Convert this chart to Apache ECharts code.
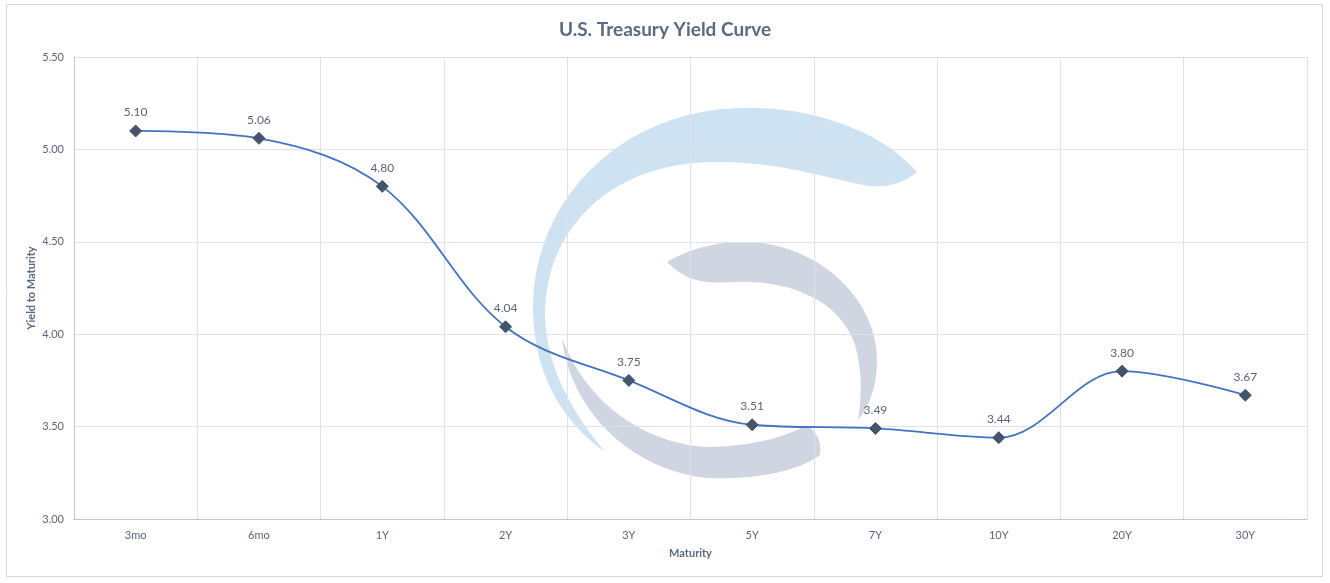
<!DOCTYPE html>
<html>
<head>
<meta charset="utf-8">
<script src="https://cdn.jsdelivr.net/npm/echarts@6/dist/echarts.min.js"></script>
<style>html,body{margin:0;padding:0;background:#fff}#c{width:1330px;height:583px}</style>
</head>
<body>
<div id="c"></div>
<script>
const categories = ['3mo','6mo','1Y','2Y','3Y','5Y','7Y','10Y','20Y','30Y'];
const yields = [5.10, 5.06, 4.80, 4.04, 3.75, 3.51, 3.49, 3.44, 3.80, 3.67];
const yTicks = { min: 3.0, max: 5.5, interval: 0.5 };

// watermark outline helper (decorative logo, not data)
function bez(d) {
  const t = d.replace(/[MCZ]/g, ' ').trim().split(/\s+/).map(Number);
  const pts = [[t[0], t[1]]];
  let x0 = t[0], y0 = t[1];
  for (let i = 2; i + 5 < t.length; i += 6) {
    const [x1, y1, x2, y2, x3, y3] = t.slice(i, i + 6);
    for (let k = 1; k <= 20; k++) {
      const s = k / 20, u = 1 - s;
      pts.push([u*u*u*x0 + 3*u*u*s*x1 + 3*u*s*s*x2 + s*s*s*x3,
                u*u*u*y0 + 3*u*u*s*y1 + 3*u*s*s*y2 + s*s*s*y3]);
    }
    x0 = x3; y0 = y3;
  }
  return pts;
}

const chart = echarts.init(document.getElementById('c'), null, { renderer: 'canvas' });
const font = 'Lato, "Open Sans", "Liberation Sans", sans-serif';
const option = {
  backgroundColor: '#ffffff',
  animation: false,
  title: {
    text: 'U.S. Treasury Yield Curve',
    left: 'center', top: 15,
    textStyle: { fontFamily: font, fontSize: 19, fontWeight: 'bold', color: '#5b6a80' }
  },
  graphic: [
    { type: 'rect', z: -10, shape: { x: 6.5, y: 4.5, width: 1316, height: 572 },
      style: { fill: 'none', stroke: '#d9d9d9', lineWidth: 1 } },
    { type: 'polygon', z: -5, shape: { points: bez(
      'M 917 172 C 880 130 810 105 737 108 C 620 112 535 200 533 303 C 532 370 560 420 605 452 C 575 415 545 370 545 310 C 548 220 620 160 720 162 C 790 163 830 180 870 186 C 890 188 905 182 917 172 Z') },
      style: { fill: '#cfe2f1' } },
    { type: 'polygon', z: -5, shape: { points: bez(
      'M 667 262 C 690 248 720 241 750 242 C 820 245 877 300 877 360 C 877 385 870 405 858 420 C 862 395 862 370 855 345 C 840 300 790 280 735 282 C 710 283 690 285 667 262 Z') },
      style: { fill: '#d0d6e1' } },
    { type: 'polygon', z: -5, shape: { points: bez(
      'M 562 338 C 570 410 630 470 707 478 C 760 480 800 470 820 455 C 822 440 815 428 805 426 C 780 440 740 447 705 447 C 640 442 585 400 562 338 Z') },
      style: { fill: '#d0d6e1' } }
  ],
  grid: { left: 74, right: 23, top: 57, bottom: 64, containLabel: false },
  xAxis: {
    type: 'category',
    data: categories,
    boundaryGap: true,
    name: 'Maturity',
    nameLocation: 'middle',
    nameGap: 29,
    nameTextStyle: { fontFamily: font, fontSize: 11, fontWeight: 'bold', color: '#5b6a80' },
    axisLine: { lineStyle: { color: '#bfc6d2', width: 1 } },
    axisTick: { show: false },
    axisLabel: { fontFamily: font, fontSize: 11, color: '#5b6578', margin: 11 },
    splitLine: { show: true, lineStyle: { color: '#dde2ea', width: 1 } }
  },
  yAxis: {
    type: 'value',
    min: yTicks.min, max: yTicks.max, interval: yTicks.interval,
    name: 'Yield to Maturity',
    nameLocation: 'middle',
    nameGap: 37,
    nameMoveOverlap: false,
    nameTextStyle: { fontFamily: font, fontSize: 11, fontWeight: 'bold', color: '#5b6a80' },
    axisLine: { show: true, lineStyle: { color: '#bfc6d2', width: 1 } },
    axisTick: { show: false },
    axisLabel: { fontFamily: font, fontSize: 11, color: '#5b6578', margin: 10,
      formatter: v => v.toFixed(2) },
    splitLine: { show: true, lineStyle: { color: '#dde2ea', width: 1 } }
  },
  series: [{
    type: 'line',
    data: yields,
    smooth: 0.35,
    symbol: 'diamond',
    symbolSize: 12,
    lineStyle: { color: '#4472c4', width: 1.8 },
    itemStyle: { color: '#44546a', borderColor: '#44546a' },
    label: { show: true, position: 'top', distance: 6, fontFamily: font, fontSize: 12,
      color: '#5b6578', formatter: p => p.value.toFixed(2) },
    z: 3
  }]
};
chart.setOption(option);
</script>
</body>
</html>
